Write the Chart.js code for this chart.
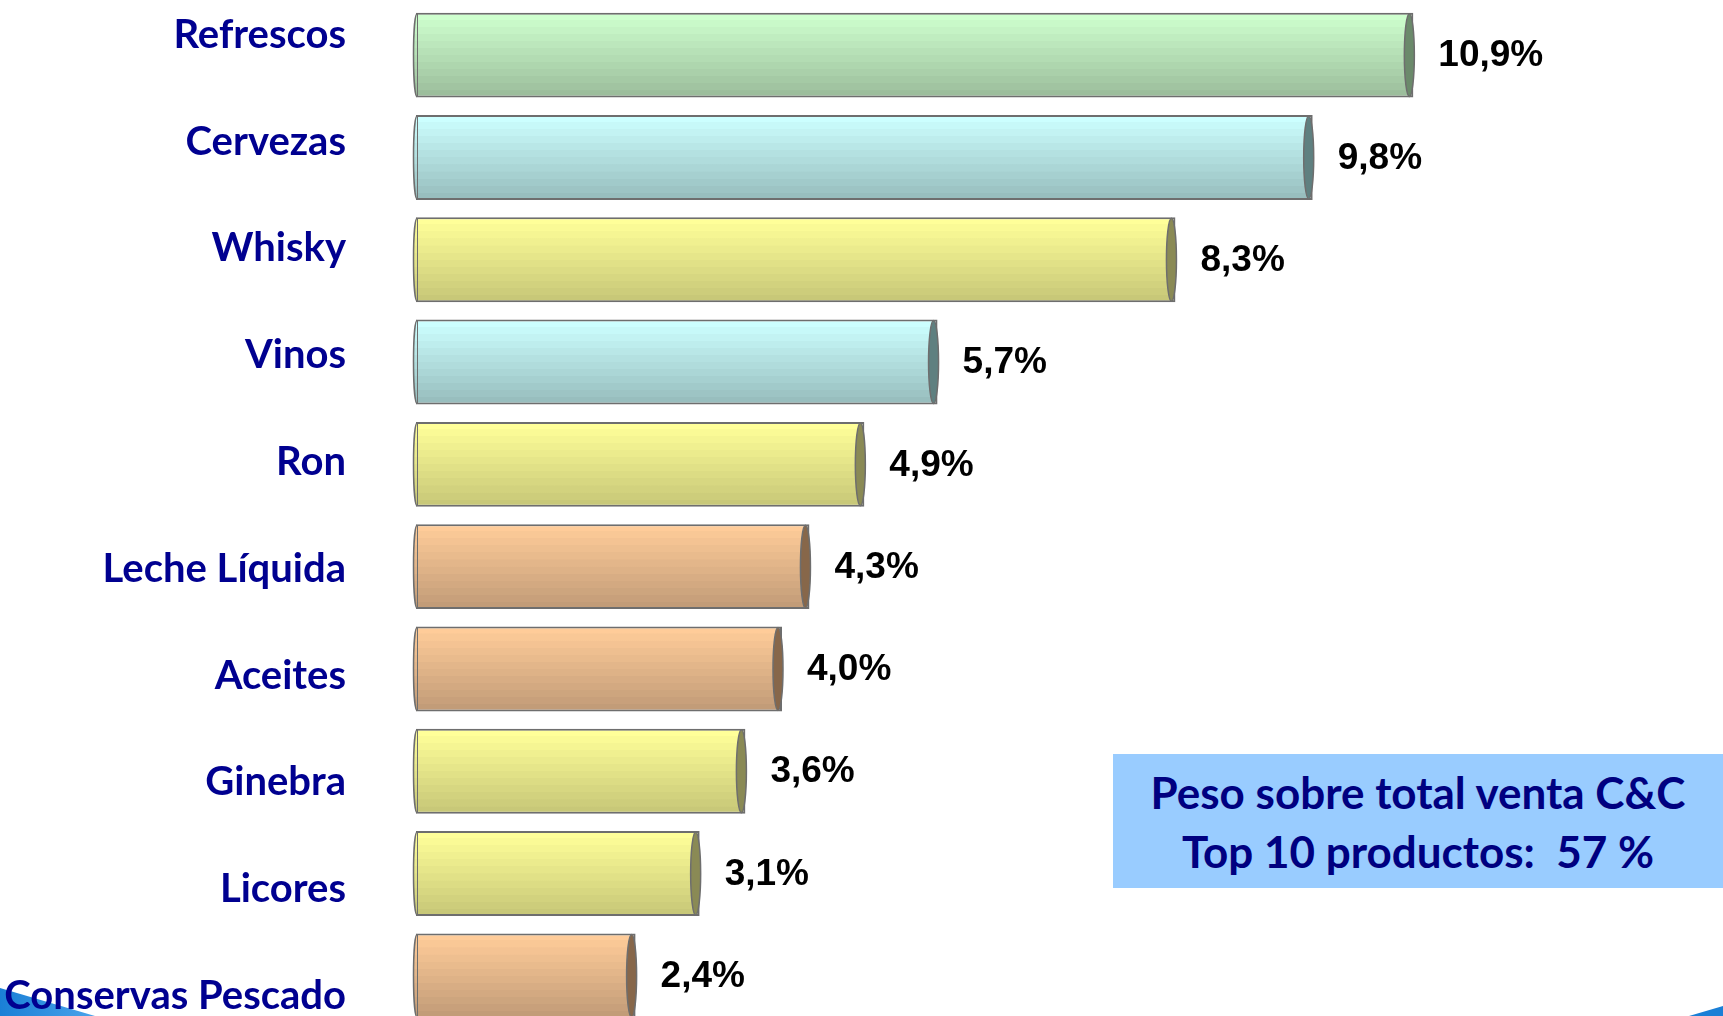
<!DOCTYPE html>
<html>
<head>
<meta charset="utf-8">
<script src="https://cdn.jsdelivr.net/npm/chart.js@4.4.1/dist/chart.umd.min.js"></script>
<style>
  html, body { margin: 0; padding: 0; background: #fff; overflow: hidden; }
  #wrap { position: relative; width: 1723px; height: 1016px; overflow: hidden; }
  #wrap canvas { position: absolute; left: 0; top: 0; z-index: 2; }
  .note {
    position: absolute; left: 1113px; top: 754px; width: 610px; height: 134px;
    box-sizing: border-box; padding-top: 9px; z-index: 3;
    background: #99ccff; color: #000080;
    font: 700 44px Lato, sans-serif; line-height: 59px; text-align: center;
  }
  .swoosh-l {
    position: absolute; left: 0; bottom: 0; width: 95px; height: 28px; z-index: 1;
    background: linear-gradient(90deg, #1a7fd6, #4aa3ea);
    clip-path: polygon(0 0, 100% 100%, 0 100%);
  }
  .swoosh-r {
    position: absolute; right: 0; bottom: 0; width: 34px; height: 10px; z-index: 1;
    background: #1a7fd6;
    clip-path: polygon(100% 0, 100% 100%, 0 100%);
  }
</style>
</head>
<body>
<div id="wrap">
  <div class="swoosh-l"></div>
  <div class="swoosh-r"></div>
  <canvas id="chart" width="1723" height="1030"></canvas>
  <div class="note">Peso sobre total venta C&amp;C<br>Top 10 productos:&nbsp; 57 %</div>
</div>
<script>
// --- data ---
const categories = ['Refrescos', 'Cervezas', 'Whisky', 'Vinos', 'Ron', 'Leche Líquida',
                    'Aceites', 'Ginebra', 'Licores', 'Conservas Pescado'];
const shares = [10.9, 9.8, 8.3, 5.7, 4.9, 4.3, 4.0, 3.6, 3.1, 2.4];
const barGroup = ['green', 'cyan', 'yellow', 'cyan', 'yellow', 'orange',
                  'orange', 'yellow', 'yellow', 'orange'];

// colours of each bar group: top stripe, bottom stripe, end cap
const palettes = {
    green:  { top: [206, 255, 206], bottom: [156, 190, 156], cap: '#6b8a6b' },
    cyan:   { top: [204, 255, 255], bottom: [152, 190, 190], cap: '#5f8080' },
    yellow: { top: [255, 255, 153], bottom: [200, 200, 120], cap: '#8a8a55' },
    orange: { top: [255, 204, 153], bottom: [194, 156, 120], cap: '#87674a' }
};

const barPct = 0.83;
const labelSpread = 1.044; // category text box is a bit taller than the bar stack

function mix(a, b, t) {
    return 'rgb(' + a.map((v, i) => Math.round(v + (b[i] - v) * t)).join(',') + ')';
}

function barFill(ctx) {
    const pal = palettes[barGroup[ctx.dataIndex]] || palettes.green;
    const chart = ctx.chart;
    const y = chart.scales.y;
    if (ctx.dataIndex === undefined || !y || !chart.chartArea) return mix(pal.top, pal.top, 0);
    const center = y.getPixelForValue(ctx.dataIndex);
    const half = y.height / categories.length * barPct / 2;
    const g = chart.ctx.createLinearGradient(0, center - half, 0, center + half);
    const n = 12;
    for (let k = 0; k < n; k++) {
        let c = mix(pal.top, pal.bottom, k / (n - 1));
        g.addColorStop(k / n, c);
        g.addColorStop((k + 1) / n - 0.002, c);
    }
    return g;
}

// right-hand cylinder cap + soft left bulge
const barEnds = {
    id: 'barEnds',
    afterDatasetsDraw(chart) {
        const c = chart.ctx;
        const meta = chart.getDatasetMeta(0);
        meta.data.forEach((el, i) => {
            const pal = palettes[barGroup[i]];
            const h = el.height;
            c.save();
            // left bulge
            c.beginPath();
            c.ellipse(el.base + 1, el.y, 3.5, h / 2 - 1, 0, Math.PI / 2, Math.PI * 1.5);
            c.fillStyle = el.options.backgroundColor;
            c.fill();
            c.strokeStyle = '#6e6e6e';
            c.lineWidth = 1.5;
            c.stroke();
            // right cap
            c.beginPath();
            c.ellipse(el.x - 4, el.y, 5, h / 2 - 1, 0, 0, Math.PI * 2);
            c.fillStyle = pal.cap;
            c.fill();
            c.strokeStyle = '#6e6e6e';
            c.lineWidth = 1.5;
            c.stroke();
            c.restore();
        });
    }
};

// value labels at bar ends and category names on the left
const textLayer = {
    id: 'textLayer',
    afterDraw(chart) {
        const c = chart.ctx;
        const meta = chart.getDatasetMeta(0);
        const area = chart.chartArea;
        const mid = (area.top + area.bottom) / 2;
        c.save();
        c.textBaseline = 'middle';
        meta.data.forEach((el, i) => {
            c.font = 'bold 37px "Liberation Sans", Arial, sans-serif';
            c.fillStyle = '#000';
            c.textAlign = 'left';
            c.fillText(shares[i].toFixed(1).replace('.', ','), el.x + 25, el.y + 1);
            const w = c.measureText(shares[i].toFixed(1).replace('.', ',')).width;
            c.fillText('%', el.x + 25 + w, el.y + 1);

            c.font = 'bold 40px Lato, sans-serif';
            c.fillStyle = '#000090';
            c.textAlign = 'right';
            c.fillText(categories[i], 346, mid + (el.y - mid) * labelSpread);
        });
        c.restore();
    }
};

new Chart(document.getElementById('chart'), {
    type: 'bar',
    data: {
        labels: categories,
        datasets: [{
            data: shares,
            backgroundColor: barFill,
            borderColor: '#6e6e6e',
            borderWidth: 2,
            borderSkipped: false,
            barPercentage: barPct,
            categoryPercentage: 1
        }]
    },
    options: {
        indexAxis: 'y',
        responsive: false,
        animation: false,
        layout: { padding: { left: 416, right: 26, top: 4, bottom: 3 } },
        scales: {
            x: { display: false, min: 0, max: 14 },
            y: { display: false }
        },
        plugins: {
            legend: { display: false },
            tooltip: { enabled: false }
        }
    },
    plugins: [barEnds, textLayer]
});
</script>
</body>
</html>
